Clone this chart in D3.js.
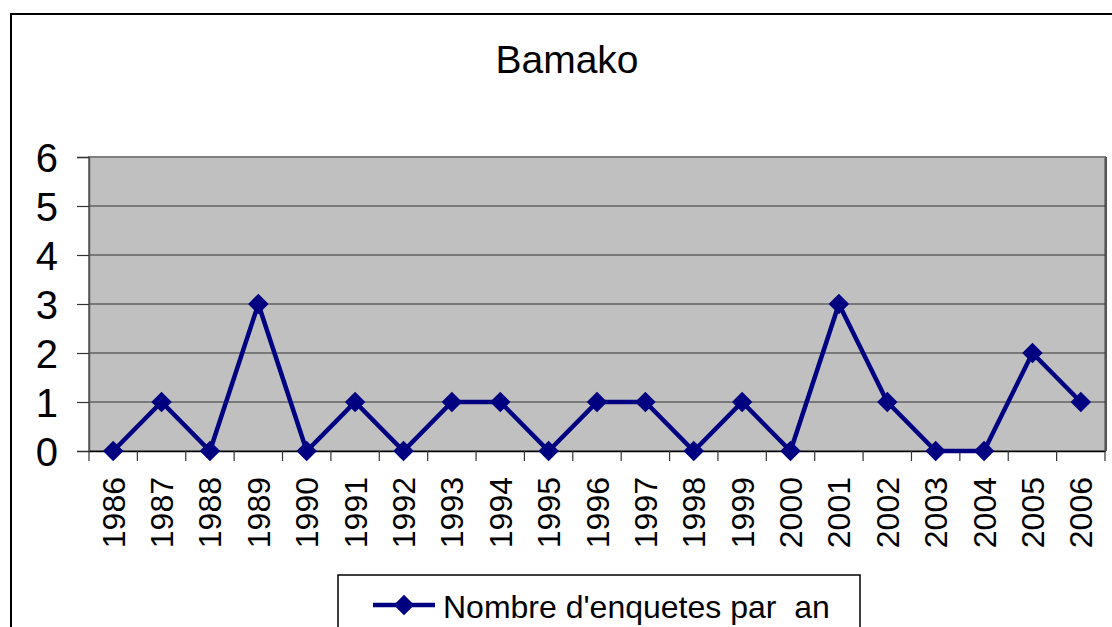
<!DOCTYPE html>
<html>
<head>
<meta charset="utf-8">
<script src="https://cdn.jsdelivr.net/npm/d3@7"></script>
<style>
  body { margin: 0; background: #fff; }
  text { font-family: Arial, "Liberation Sans", sans-serif; fill: #000; }
</style>
</head>
<body>
<div id="chart"></div>
<script>
const years = ["1986","1987","1988","1989","1990","1991","1992","1993","1994","1995","1996",
               "1997","1998","1999","2000","2001","2002","2003","2004","2005","2006"];
const enquetes = [0, 1, 0, 3, 0, 1, 0, 1, 1, 0, 1, 1, 0, 1, 0, 3, 1, 0, 0, 2, 1];
const yTicks = [0, 1, 2, 3, 4, 5, 6];
const chartTitle = "Bamako";
const seriesName = "Nombre d'enquetes par  an";

const W = 1112, H = 627;
const plot = { left: 89, right: 1105, top: 157, bottom: 451 };
const navy = "#000080";

const svg = d3.select("#chart").append("svg")
    .attr("width", W)
    .attr("height", H);

// outer chart frame (runs off the right and bottom)
svg.append("rect")
    .attr("x", 11).attr("y", 14)
    .attr("width", 1140).attr("height", 700)
    .attr("fill", "#fff")
    .attr("stroke", "#000")
    .attr("stroke-width", 2);

svg.append("text")
    .attr("x", 567).attr("y", 73)
    .attr("text-anchor", "middle")
    .style("font-size", "39px")
    .text(chartTitle);

const x = d3.scaleBand()
    .domain(years)
    .range([plot.left, plot.right]);

const y = d3.scaleLinear()
    .domain([0, 6])
    .range([plot.bottom, plot.top]);

// plot background
svg.append("rect")
    .attr("x", plot.left).attr("y", plot.top)
    .attr("width", plot.right - plot.left)
    .attr("height", plot.bottom - plot.top)
    .attr("fill", "#c0c0c0")
    .attr("stroke", "#808080")
    .attr("stroke-width", 2);

// gridlines
svg.selectAll(".grid")
    .data(yTicks.filter(d => d > 0 && d < 6))
    .enter().append("line")
    .attr("x1", plot.left).attr("x2", plot.right)
    .attr("y1", d => y(d)).attr("y2", d => y(d))
    .attr("stroke", "#333")
    .attr("stroke-width", 1.2);

// right shadow edge
svg.append("line")
    .attr("x1", plot.right + 1).attr("x2", plot.right + 1)
    .attr("y1", plot.top).attr("y2", plot.bottom)
    .attr("stroke", "#555")
    .attr("stroke-width", 2);

// y axis
const yAxis = svg.append("g")
    .attr("transform", `translate(${plot.left},0)`)
    .call(d3.axisLeft(y).tickValues(yTicks).tickSize(12).tickPadding(19).tickFormat(d3.format("d")));
yAxis.select(".domain").attr("stroke", "#555").attr("stroke-width", 1.5);
yAxis.selectAll(".tick line").attr("stroke", "#333").attr("stroke-width", 1.2);
yAxis.selectAll(".tick text")
    .style("font-size", "40px")
    .attr("dy", "0.36em")
    .attr("fill", "#000");

// x axis
const xAxis = svg.append("g")
    .attr("transform", `translate(0,${plot.bottom})`)
    .call(d3.axisBottom(x).tickSize(0).tickFormat(""));
xAxis.select(".domain").attr("stroke", "#000").attr("stroke-width", 1.5);

svg.selectAll(".xtick")
    .data(d3.range(years.length + 1))
    .enter().append("line")
    .attr("x1", i => plot.left + i * x.step())
    .attr("x2", i => plot.left + i * x.step())
    .attr("y1", plot.bottom).attr("y2", plot.bottom + 10)
    .attr("stroke", "#333")
    .attr("stroke-width", 1.2);

svg.selectAll(".xlabel")
    .data(years)
    .enter().append("text")
    .attr("transform", d => `translate(${x(d) + x.bandwidth() / 2},477) rotate(-90)`)
    .attr("text-anchor", "end")
    .attr("dy", "0.36em")
    .style("font-size", "32px")
    .text(d => d);

// series line
const line = d3.line()
    .x((d, i) => x(years[i]) + x.bandwidth() / 2)
    .y(d => y(d));

svg.append("path")
    .datum(enquetes)
    .attr("d", line)
    .attr("fill", "none")
    .attr("stroke", navy)
    .attr("stroke-width", 4.5)
    .attr("stroke-linejoin", "miter");

const diamond = d3.symbol().type(d3.symbolSquare).size(210);
svg.selectAll(".pt")
    .data(enquetes)
    .enter().append("path")
    .attr("d", diamond)
    .attr("transform", (d, i) => `translate(${x(years[i]) + x.bandwidth() / 2},${y(d)}) rotate(45)`)
    .attr("fill", navy);

// legend
svg.append("rect")
    .attr("x", 338).attr("y", 575)
    .attr("width", 522).attr("height", 80)
    .attr("fill", "#fff")
    .attr("stroke", "#000")
    .attr("stroke-width", 1.5);

svg.append("line")
    .attr("x1", 373).attr("x2", 435)
    .attr("y1", 605).attr("y2", 605)
    .attr("stroke", navy)
    .attr("stroke-width", 4.5);

svg.append("path")
    .attr("d", diamond)
    .attr("transform", "translate(404,605) rotate(45)")
    .attr("fill", navy);

svg.append("text")
    .attr("x", 443).attr("y", 618)
    .style("font-size", "32px")
    .style("white-space", "pre")
    .text(seriesName);
</script>
</body>
</html>
